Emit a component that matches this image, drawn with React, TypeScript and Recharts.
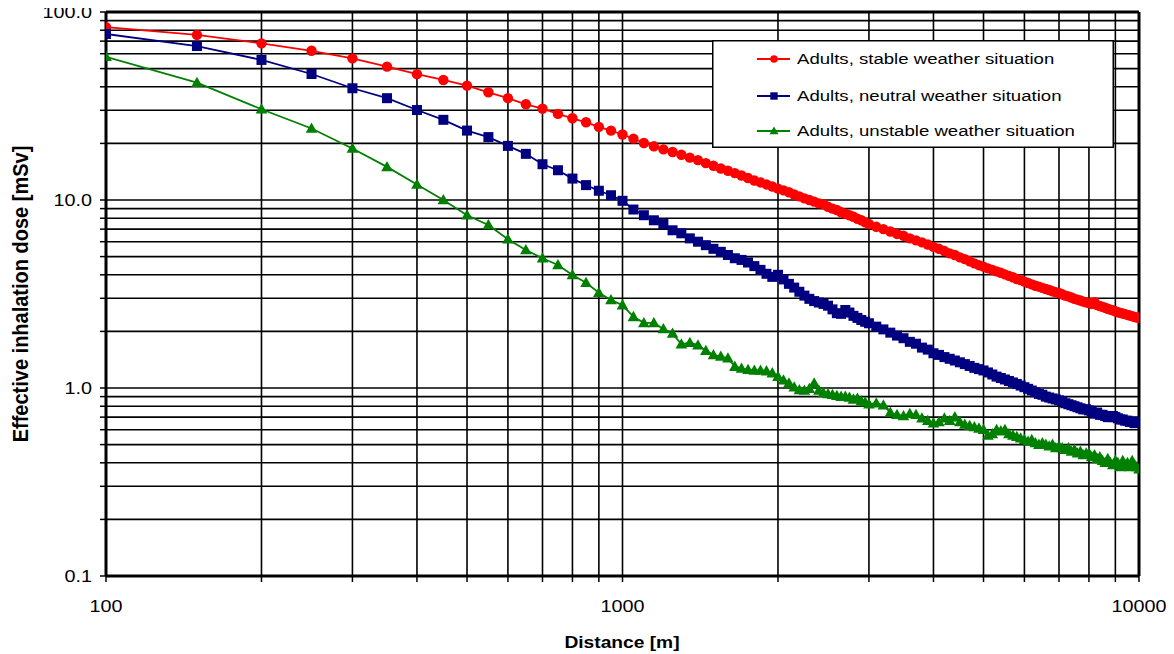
import React from 'react';
import { LineChart, Line, XAxis, YAxis, CartesianGrid, ReferenceLine, Legend } from 'recharts';

// Distance [m]
const distances = [
  100, 150, 200, 250, 300, 350, 400, 450, 500, 550, 600, 650, 700, 750, 800, 850, 900, 950, 1000,
  1050, 1100, 1150, 1200, 1250, 1300, 1350, 1400, 1450, 1500, 1550, 1600, 1650, 1700, 1750, 1800, 1850, 1900, 1950, 2000,
  2050, 2100, 2150, 2200, 2250, 2300, 2350, 2400, 2450, 2500, 2550, 2600, 2650, 2700, 2750, 2800, 2850, 2900, 2950, 3000,
  3100, 3200, 3300, 3400, 3500, 3600, 3700, 3800, 3900, 4000,
  4100, 4200, 4300, 4400, 4500, 4600, 4700, 4800, 4900, 5000,
  5100, 5200, 5300, 5400, 5500, 5600, 5700, 5800, 5900, 6000,
  6100, 6200, 6300, 6400, 6500, 6600, 6700, 6800, 6900, 7000,
  7100, 7200, 7300, 7400, 7500, 7600, 7700, 7800, 7900, 8000,
  8100, 8200, 8300, 8400, 8500, 8600, 8700, 8800, 8900, 9000,
  9100, 9200, 9300, 9400, 9500, 9600, 9700, 9800, 9900, 10000,
];

// Effective inhalation dose [mSv], adults, stable weather situation
const stableDose = [
  83, 75.5, 68.1, 62.2, 56.7, 51.2, 46.7, 43.5, 40.6, 37.4, 34.8, 32.3, 30.6, 28.7, 27.2, 25.9, 24.5, 23.4, 22.3,
  21.2, 20.1, 19.3, 18.6, 18.0, 17.4, 16.8, 16.3, 15.7, 15.2, 14.7, 14.3, 13.9, 13.5, 13.1, 12.7, 12.4, 12.1, 11.8, 11.5,
  11.25, 11.0, 10.7, 10.45, 10.2, 10.0, 9.8, 9.6, 9.5, 9.2, 9.0, 8.85, 8.6, 8.45, 8.3, 8.15, 7.95, 7.8, 7.6, 7.45,
  7.2, 7.0, 6.8, 6.6, 6.45, 6.25, 6.1, 5.95, 5.8, 5.63,
  5.5, 5.35, 5.2, 5.1, 4.95, 4.85, 4.72, 4.6, 4.5, 4.42,
  4.33, 4.25, 4.17, 4.1, 4.02, 3.95, 3.88, 3.8, 3.75, 3.68,
  3.62, 3.56, 3.5, 3.46, 3.41, 3.36, 3.32, 3.27, 3.23, 3.2,
  3.15, 3.1, 3.07, 3.03, 2.98, 2.95, 2.92, 2.88, 2.86, 2.83,
  2.8, 2.86, 2.76, 2.73, 2.7, 2.67, 2.64, 2.61, 2.59, 2.56,
  2.53, 2.51, 2.49, 2.47, 2.45, 2.43, 2.41, 2.39, 2.37, 2.36,
];

// Adults, neutral weather situation
const neutralDose = [
  76.4, 65.9, 55.6, 46.8, 39.3, 34.8, 30.1, 26.7, 23.4, 21.6, 19.4, 17.6, 15.5, 14.4, 13.0, 12.0, 11.2, 10.6, 9.9,
  8.9, 8.3, 7.8, 7.45, 6.9, 6.65, 6.25, 6.0, 5.75, 5.5, 5.3, 5.1, 4.9, 4.8, 4.65, 4.45, 4.25, 4.05, 3.9, 4.0,
  3.78, 3.58, 3.42, 3.25, 3.1, 2.98, 2.9, 2.85, 2.8, 2.74, 2.62, 2.5, 2.48, 2.6, 2.52, 2.42, 2.36, 2.3, 2.25, 2.21,
  2.12, 2.05, 1.97, 1.9, 1.84, 1.76, 1.72, 1.64, 1.6, 1.53,
  1.5, 1.46, 1.43, 1.4, 1.37, 1.34, 1.31, 1.28, 1.26, 1.24,
  1.21, 1.18, 1.15, 1.13, 1.11, 1.09, 1.07, 1.05, 1.03, 1.01,
  0.99, 0.97, 0.95, 0.93, 0.92, 0.9, 0.89, 0.88, 0.87, 0.86,
  0.85, 0.83, 0.82, 0.81, 0.8, 0.79, 0.78, 0.77, 0.77, 0.76,
  0.75, 0.73, 0.74, 0.72, 0.72, 0.71, 0.7, 0.7, 0.71, 0.7,
  0.69, 0.68, 0.68, 0.67, 0.67, 0.66, 0.66, 0.65, 0.66, 0.66,
];

// Adults, unstable weather situation
const unstableDose = [
  57.8, 42.1, 30.4, 24.0, 18.8, 15.0, 12.1, 10.0, 8.3, 7.36, 6.18, 5.42, 4.9, 4.51, 3.99, 3.63, 3.21, 2.94, 2.76,
  2.39, 2.22, 2.22, 2.06, 1.95, 1.71, 1.74, 1.69, 1.58, 1.5, 1.47, 1.44, 1.3, 1.27, 1.25, 1.24, 1.24, 1.23, 1.2, 1.15,
  1.1, 1.06, 1.01, 0.976, 0.97, 0.99, 1.06, 0.97, 0.94, 0.93, 0.92, 0.91, 0.9, 0.9, 0.89, 0.87, 0.88, 0.85, 0.84, 0.82,
  0.83, 0.81, 0.74, 0.72, 0.71, 0.73, 0.72, 0.69, 0.67, 0.65,
  0.66, 0.69, 0.67, 0.7, 0.66, 0.64, 0.63, 0.62, 0.61, 0.6,
  0.56, 0.57, 0.6, 0.59, 0.6, 0.57, 0.56, 0.55, 0.54, 0.53,
  0.52, 0.53, 0.51, 0.5, 0.51, 0.5, 0.49, 0.5, 0.48, 0.49,
  0.48, 0.47, 0.48, 0.46, 0.47, 0.45, 0.46, 0.44, 0.45, 0.45,
  0.43, 0.44, 0.42, 0.43, 0.41, 0.4, 0.42, 0.4, 0.39, 0.41,
  0.4, 0.38, 0.41, 0.39, 0.4, 0.38, 0.41, 0.39, 0.38, 0.37,
];

const xTicks = [100, 200, 300, 400, 500, 600, 700, 800, 900, 1000, 2000, 3000, 4000, 5000, 6000, 7000, 8000, 9000, 10000];
const xTickLabels = [100, 1000, 10000];
const yTicks = [
  0.1, 0.2, 0.3, 0.4, 0.5, 0.6, 0.7, 0.8, 0.9,
  1, 2, 3, 4, 5, 6, 7, 8, 9,
  10, 20, 30, 40, 50, 60, 70, 80, 90, 100,
];
const yTickLabels = [0.1, 1, 10, 100];

const seriesNames = [
  'Adults, stable weather situation',
  'Adults, neutral weather situation',
  'Adults, unstable weather situation',
];
const xTitle = 'Distance [m]';
const yTitle = 'Effective inhalation dose [mSv]';

const data = distances.map((d, i) => ({
  d,
  stable: stableDose[i],
  neutral: neutralDose[i],
  unstable: unstableDose[i],
}));

const FONT = '"Liberation Sans", Arial, sans-serif';
const RED = '#FF0000';
const BLUE = '#000080';
const GREEN = '#008000';
const SX = 1.2;

const CircleDot = (props: any) => {
  const { cx, cy, index } = props;
  if (cx == null || cy == null) return <g key={`c${index}`} />;
  return <circle key={`c${index}`} cx={cx} cy={cy} r={5.2} fill={RED} stroke="none" />;
};
const SquareDot = (props: any) => {
  const { cx, cy, index } = props;
  if (cx == null || cy == null) return <g key={`s${index}`} />;
  return <rect key={`s${index}`} x={cx - 5} y={cy - 5} width={10} height={10} fill={BLUE} stroke="none" />;
};
const TriangleDot = (props: any) => {
  const { cx, cy, index } = props;
  if (cx == null || cy == null) return <g key={`t${index}`} />;
  return (
    <polygon
      key={`t${index}`}
      points={`${cx},${cy - 6} ${cx - 5.8},${cy + 4.3} ${cx + 5.8},${cy + 4.3}`}
      fill={GREEN}
      stroke="none"
    />
  );
};

const XTick = (props: any) => {
  const { x, y, payload } = props;
  if (!xTickLabels.includes(payload.value)) return <g />;
  return (
    <text
      transform={`translate(${x},${y + 22}) scale(${SX},1)`}
      textAnchor="middle"
      dy="0.35em"
      fontSize={16.5}
      fontFamily={FONT}
      fill="#000"
    >
      {String(payload.value)}
    </text>
  );
};

const YTick = (props: any) => {
  const { x, y, payload } = props;
  if (!yTickLabels.includes(payload.value)) return <g />;
  return (
    <text
      transform={`translate(${x},${y}) scale(${SX},1)`}
      textAnchor="end"
      dy="0.35em"
      fontSize={16.5}
      fontFamily={FONT}
      fill="#000"
    >
      {Number(payload.value).toFixed(1)}
    </text>
  );
};

const renderXTitle = () => (
  <text
    transform={`translate(622,642) scale(${SX},1)`}
    textAnchor="middle"
    dy="0.35em"
    fontSize={16}
    fontWeight="bold"
    fontFamily={FONT}
    fill="#000"
  >
    {xTitle}
  </text>
);

const renderYTitle = () => (
  <text
    transform={`translate(20,294) scale(1.1,1) rotate(-90)`}
    textAnchor="middle"
    dy="0.35em"
    fontSize={20}
    fontWeight="bold"
    fontFamily={FONT}
    fill="#000"
  >
    {yTitle}
  </text>
);

const legendColors = [RED, BLUE, GREEN];
const legendRows = [19, 56, 91];

const LegendBox = () => (
  <svg width={402} height={108} style={{ display: 'block' }}>
    <rect x={0.75} y={0.75} width={400.5} height={106.5} fill="#fff" stroke="#000" strokeWidth={1.5} />
    {seriesNames.map((name, i) => {
      const y = legendRows[i];
      const c = legendColors[i];
      return (
        <g key={name}>
          <line x1={45} x2={78} y1={y} y2={y} stroke={c} strokeWidth={1.8} />
          {i === 0 && <circle cx={62} cy={y} r={3.8} fill={c} />}
          {i === 1 && <rect x={58.3} y={y - 3.7} width={7.4} height={7.4} fill={c} />}
          {i === 2 && <polygon points={`62,${y - 4.5} 57.5,${y + 3.3} 66.5,${y + 3.3}`} fill={c} />}
          <text
            transform={`translate(85,${y}) scale(${SX},1)`}
            dy="0.35em"
            fontSize={15.5}
            fontFamily={FONT}
            fill="#000"
          >
            {name}
          </text>
        </g>
      );
    })}
  </svg>
);

export default function App() {
  return (
    <div style={{ width: 1174, height: 654, margin: '-8px 0 0 -8px' }}>
      <LineChart
        width={1174}
        height={654}
        data={data}
        margin={{ top: 12, right: 35, bottom: 38, left: 46 }}
      >
        <CartesianGrid stroke="#000" strokeWidth={1.6} />
        <XAxis
          dataKey="d"
          type="number"
          scale="log"
          domain={[100, 10000]}
          ticks={xTicks}
          interval={0}
          allowDataOverflow
          height={40}
          tickSize={6}
          tickLine={{ stroke: '#000', strokeWidth: 1.5 }}
          axisLine={{ stroke: '#000', strokeWidth: 3 }}
          tick={XTick}
          label={renderXTitle}
        />
        <YAxis
          type="number"
          scale="log"
          domain={[0.1, 100]}
          ticks={yTicks}
          interval={0}
          allowDataOverflow
          width={60}
          tickSize={6}
          tickMargin={8}
          tickLine={{ stroke: '#000', strokeWidth: 1.5 }}
          axisLine={{ stroke: '#000', strokeWidth: 3 }}
          tick={YTick}
          label={renderYTitle}
        />
        <ReferenceLine y={100} stroke="#000" strokeWidth={3} />
        <ReferenceLine x={10000} stroke="#000" strokeWidth={3} />
        <Line
          dataKey="stable"
          name={seriesNames[0]}
          type="linear"
          stroke={RED}
          strokeWidth={1.8}
          dot={CircleDot}
          activeDot={false}
          isAnimationActive={false}
        />
        <Line
          dataKey="neutral"
          name={seriesNames[1]}
          type="linear"
          stroke={BLUE}
          strokeWidth={1.8}
          dot={SquareDot}
          activeDot={false}
          isAnimationActive={false}
        />
        <Line
          dataKey="unstable"
          name={seriesNames[2]}
          type="linear"
          stroke={GREEN}
          strokeWidth={1.8}
          dot={TriangleDot}
          activeDot={false}
          isAnimationActive={false}
        />
        <Legend
          layout="horizontal"
          verticalAlign="middle"
          align="center"
          wrapperStyle={{ position: 'absolute', left: 712, top: 40, width: 402, height: 108 }}
          content={() => <LegendBox />}
        />
      </LineChart>
    </div>
  );
}
